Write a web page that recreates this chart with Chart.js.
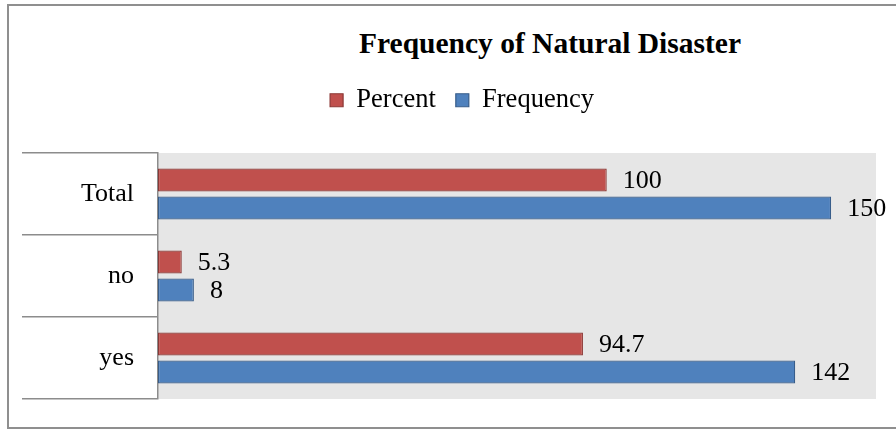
<!DOCTYPE html>
<html>
<head>
<meta charset="utf-8">
<script src="https://cdn.jsdelivr.net/npm/chart.js@4/dist/chart.umd.min.js"></script>
<style>
  html, body { margin: 0; padding: 0; background: #ffffff; }
  #wrap { position: relative; width: 896px; height: 432px; overflow: hidden; }
  #frame { position: absolute; left: 7px; top: 4px; width: 1000px; height: 421px; border: 2px solid #8f8f8f; box-sizing: content-box; }
  #title { position: absolute; left: 250px; width: 600px; top: 27px; line-height: 32px; text-align: center;
           font-family: "Liberation Serif", "Times New Roman", serif; font-weight: bold; font-size: 29.5px; color: #000; }
  canvas { position: absolute; left: 0; top: 0; }
</style>
</head>
<body>
<div id="wrap">
  <div id="frame"></div>
  <div id="title">Frequency of Natural Disaster</div>
  <canvas id="c" width="896" height="432"></canvas>
</div>
<script>
const categories = ['Total', 'no', 'yes'];
const percentValues = [100, 5.3, 94.7];
const frequencyValues = [150, 8, 142];
const seriesNames = ['Percent', 'Frequency'];

const SERIF = "'Liberation Serif', 'Times New Roman', serif";

const plotBg = {
  id: 'plotBg',
  beforeDraw(chart) {
    const {ctx, chartArea: a} = chart;
    ctx.save();
    ctx.fillStyle = '#e6e6e6';
    ctx.fillRect(a.left, a.top, a.right - a.left, a.bottom - a.top);
    ctx.restore();
  }
};

const legendMargin = {
  id: 'legendMargin',
  beforeInit(chart) {
    const fit = chart.legend.fit;
    chart.legend.fit = function () { fit.call(this); this.height += 29.5; };
  }
};

const valueLabels = {
  id: 'valueLabels',
  afterDatasetsDraw(chart) {
    const {ctx} = chart;
    ctx.save();
    ctx.font = '26px ' + SERIF;
    ctx.fillStyle = '#000';
    ctx.textAlign = 'left';
    ctx.textBaseline = 'middle';
    chart.data.datasets.forEach((ds, i) => {
      const meta = chart.getDatasetMeta(i);
      meta.data.forEach((bar, j) => {
        ctx.fillText(String(ds.data[j]), bar.x + 16, bar.y + 1);
      });
    });
    ctx.restore();
  }
};

function draw() {
  Chart.defaults.font.family = SERIF;
  new Chart(document.getElementById('c'), {
    type: 'bar',
    data: {
      labels: categories,
      datasets: [
        { label: seriesNames[0], data: percentValues, backgroundColor: '#c0504d', borderColor: '#8c3836', borderWidth: 1.2, borderSkipped: false },
        { label: seriesNames[1], data: frequencyValues, backgroundColor: '#4f81bd', borderColor: '#385d8a', borderWidth: 1.2, borderSkipped: false }
      ]
    },
    options: {
      indexAxis: 'y',
      responsive: false,
      animation: false,
      devicePixelRatio: 1,
      layout: { padding: { left: 48, right: 20, top: 67, bottom: 33 } },
      datasets: { bar: { categoryPercentage: 0.683, barPercentage: 0.82 } },
      scales: {
        x: { display: false, min: 0, max: 160 },
        y: {
          afterFit(scale) { scale.width = 110; },
          grid: { offset: true, drawOnChartArea: false, drawTicks: true, tickLength: 136, color: '#8c8c8c', lineWidth: 1.5 },
          border: { display: true, color: '#8c8c8c', width: 1.5 },
          ticks: { padding: -112, color: '#000', font: { family: SERIF, size: 26 } }
        }
      },
      plugins: {
        title: { display: false },
        tooltip: { enabled: false },
        legend: {
          display: true,
          position: 'top',
          align: 'center',
          labels: {
            boxWidth: 13, boxHeight: 13, padding: 20, color: '#000',
            font: { family: SERIF, size: 26.5 }
          }
        }
      }
    },
    plugins: [plotBg, legendMargin, valueLabels]
  });
}

Promise.all([
  document.fonts.load("26px 'Liberation Serif'"),
  document.fonts.load("bold 29px 'Liberation Serif'")
]).then(draw, draw);
</script>
</body>
</html>
